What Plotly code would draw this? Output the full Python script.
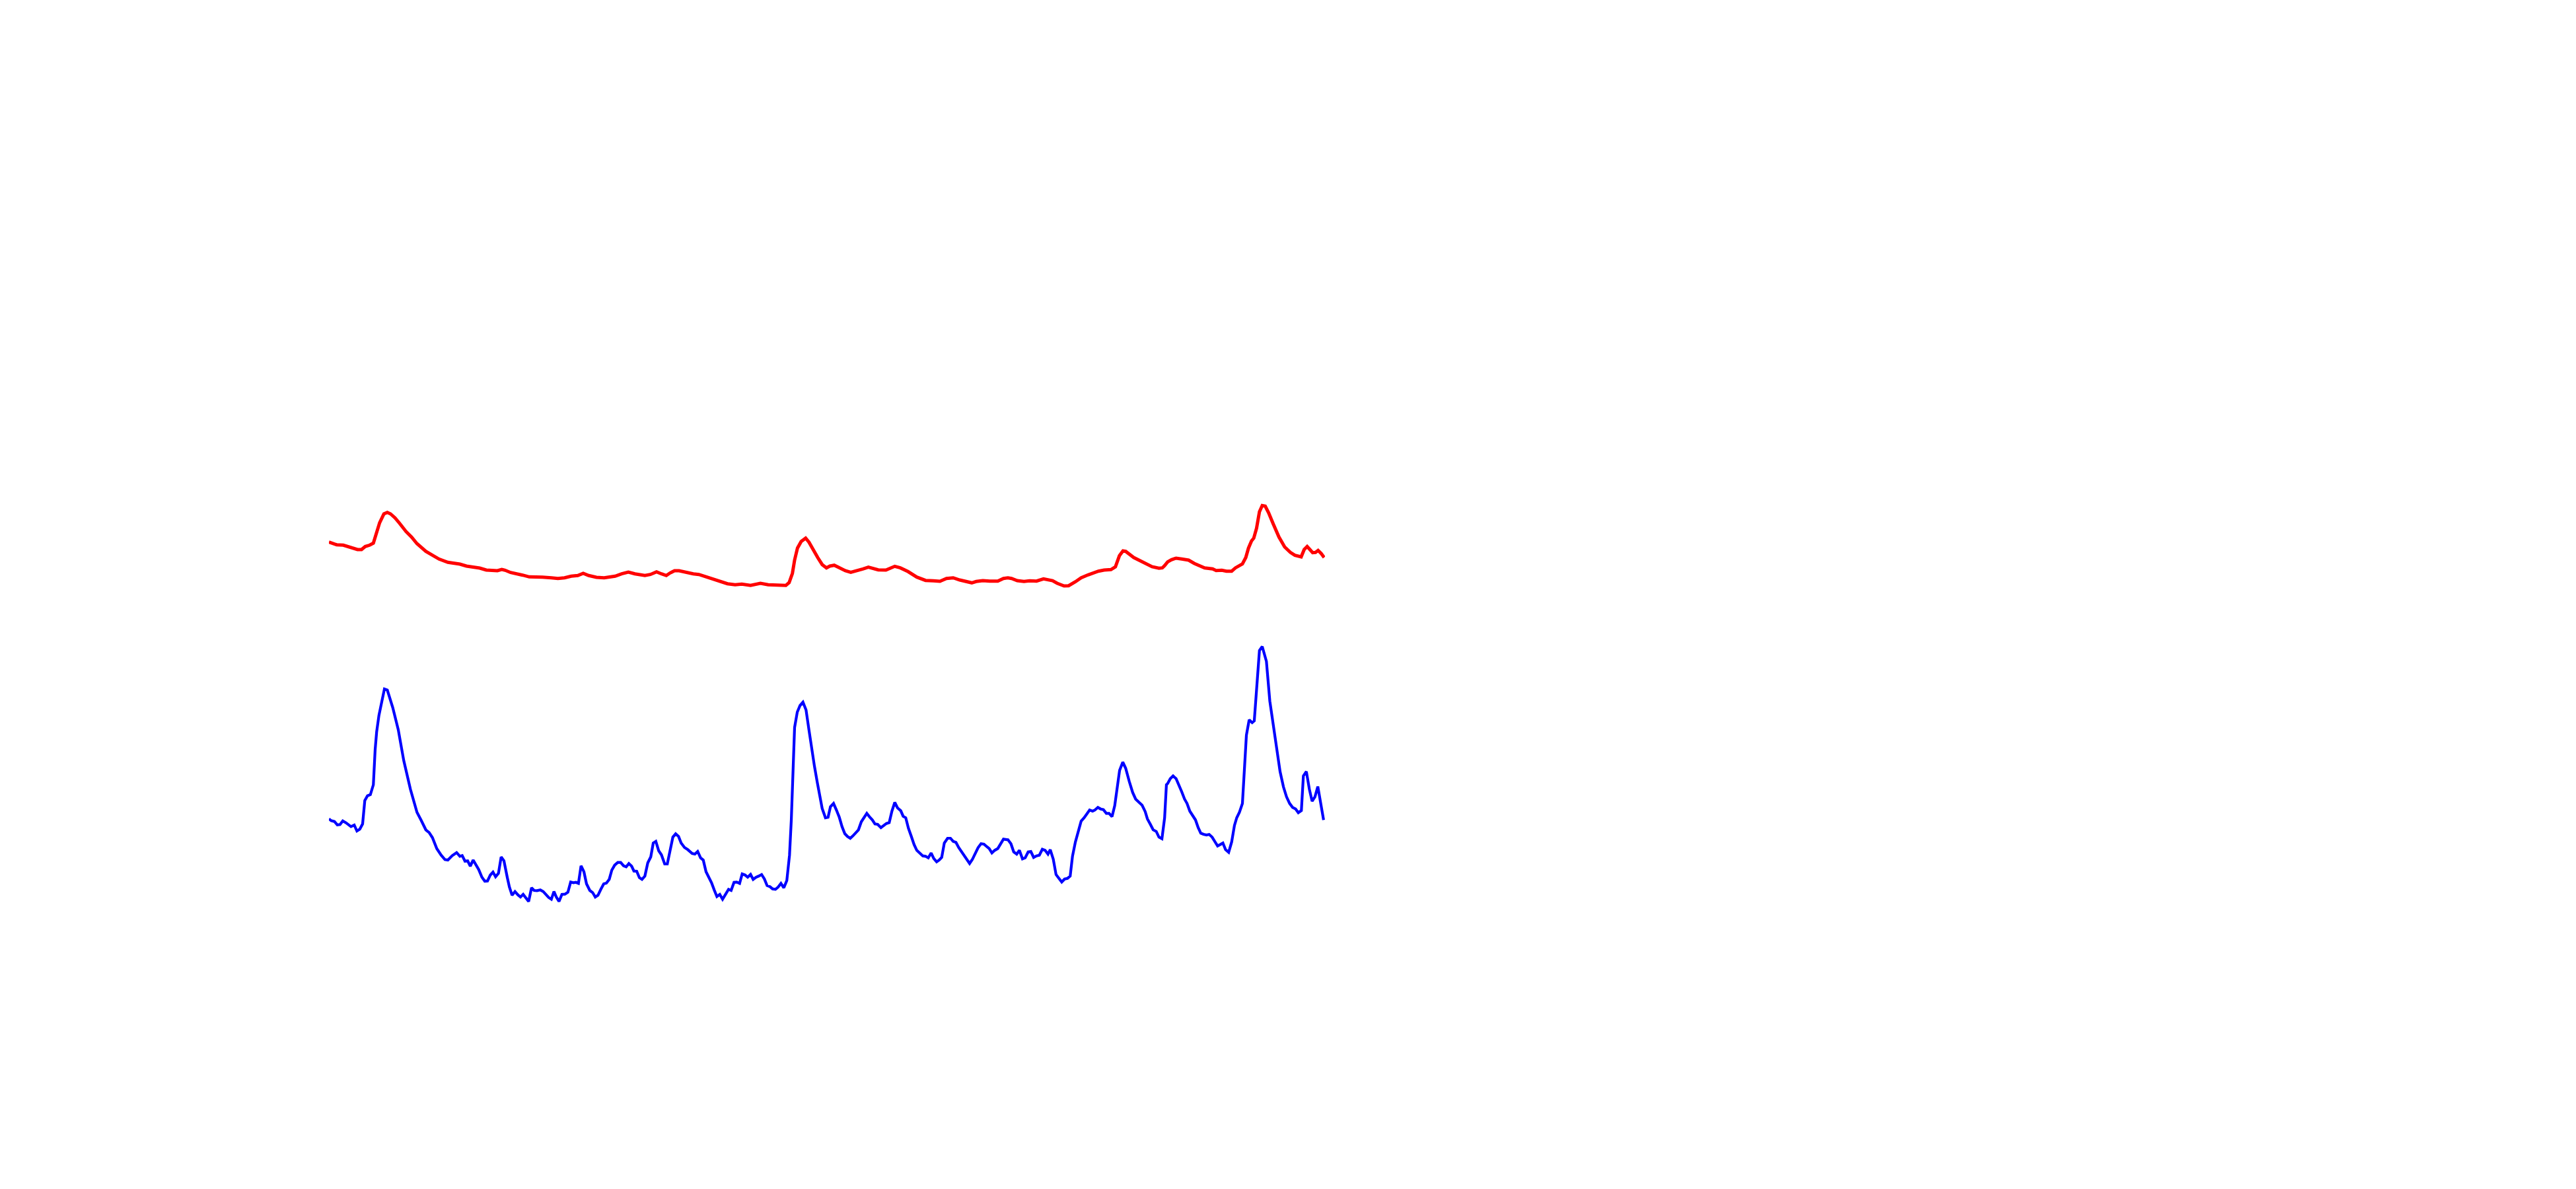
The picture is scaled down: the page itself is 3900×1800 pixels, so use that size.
import plotly.graph_objects as go

# Red series (upper line)
red_t = [0.00, 0.40, 0.78, 1.44, 1.88, 2.21, 2.54, 2.87, 3.27, 3.65, 4.09, 4.46, 4.75, 5.09, 5.52, 5.86,
         6.19, 6.63, 7.08, 7.74, 8.29, 8.84, 9.73, 10.28, 11.05, 11.94, 12.60, 13.15, 13.81, 14.48, 15.14,
         15.80, 16.47, 16.91, 17.35, 17.69, 18.24, 18.79, 19.45, 20.11, 20.89, 21.44, 22.33, 22.99, 23.65,
         24.32, 24.98, 25.53, 26.08, 26.86, 27.63, 28.18, 28.73, 29.40, 30.06, 30.72, 31.72, 32.27, 32.89,
         33.38, 33.87, 34.26, 34.70, 35.15, 35.70, 36.25, 36.58, 37.14, 37.80, 38.79, 40.01, 40.78, 41.45,
         42.33, 43.32, 44.10, 44.76, 45.21, 45.87, 46.20, 46.53, 46.75, 47.04, 47.41, 47.86, 48.19, 48.63,
         49.07, 49.52, 49.95, 50.29, 50.73, 51.28, 51.84, 52.39, 53.05, 53.60, 54.16, 54.60, 55.15, 55.92,
         56.37, 56.81, 57.36, 58.14, 59.02, 59.90, 60.68, 61.34, 62.00, 62.67, 63.33, 63.99, 64.54, 64.99,
         65.65, 66.34, 67.15, 67.72, 68.17, 68.53, 69.10, 69.78, 70.35, 71.04, 71.74, 72.65, 73.11, 73.80,
         74.26, 74.94, 75.52, 76.21, 76.90, 77.25, 77.82, 78.51, 78.96, 79.36, 79.72, 79.99, 80.80, 81.49,
         81.95, 82.64, 83.33, 83.67, 83.90, 84.20, 84.59, 85.05, 85.62, 86.31, 86.88, 87.46, 87.92, 88.72,
         89.07, 89.64, 90.11, 90.63, 91.01, 91.71, 92.05, 92.32, 92.62, 92.85, 93.13, 93.42, 93.70, 94.00,
         94.34, 94.80, 95.38, 95.95, 96.53, 96.98, 97.38, 97.61, 97.91, 98.21, 98.49, 98.76, 99.05, 99.31,
         99.62, 99.92]
red_v = [58.73, 58.50, 58.33, 58.27, 58.07, 57.83, 57.80, 57.60, 57.60, 58.07, 58.27, 58.57, 60.00, 61.67,
         63.00, 63.23, 63.00, 62.40, 61.60, 60.33, 59.50, 58.50, 57.33, 56.83, 56.17, 55.67, 55.50, 55.40,
         55.10, 55.00, 54.80, 54.50, 54.40, 54.40, 54.60, 54.47, 54.13, 54.00, 53.73, 53.47, 53.50, 53.43,
         53.33, 53.23, 53.33, 53.57, 53.67, 54.00, 53.67, 53.40, 53.33, 53.47, 53.57, 53.93, 54.20, 53.93,
         53.67, 53.83, 54.23, 53.93, 53.67, 54.07, 54.40, 54.40, 54.20, 54.10, 53.93, 53.83, 53.50, 52.93,
         52.43, 52.27, 52.37, 52.17, 52.50, 52.27, 52.23, 52.10, 52.17, 52.60, 54.00, 56.00, 57.83, 58.83,
         59.33, 58.73, 57.50, 56.40, 55.33, 54.83, 55.10, 55.23, 54.83, 54.40, 54.17, 54.40, 54.67, 54.93,
         54.73, 54.53, 54.50, 54.73, 55.07, 54.83, 54.27, 53.43, 52.93, 52.87, 52.80, 53.23, 53.33, 53.00,
         52.77, 52.57, 52.77, 52.90, 52.83, 52.83, 53.23, 53.33, 53.23, 52.90, 52.77, 52.87, 52.83, 53.17,
         52.90, 52.50, 52.10, 52.13, 52.73, 53.33, 53.77, 54.17, 54.33, 54.50, 54.57, 55.00, 56.67, 57.40,
         57.33, 56.40, 55.83, 55.43, 55.00, 54.77, 54.83, 55.17, 55.73, 56.07, 56.30, 56.17, 56.00, 55.50,
         55.07, 54.83, 54.67, 54.43, 54.47, 54.33, 54.33, 54.83, 55.43, 56.40, 57.83, 58.90, 59.33, 60.83,
         63.33, 64.27, 64.17, 63.17, 61.50, 59.50, 58.00, 57.17, 56.73, 56.50, 56.50, 57.60, 58.07, 57.60,
         57.13, 57.17, 57.47, 57.00, 56.40]

# Blue series (lower line)
blue_t = [0.00, 0.22, 0.55, 0.84, 1.11, 1.39, 1.72, 1.99, 2.21, 2.54, 2.81, 3.10, 3.38, 3.60, 3.87, 4.16,
          4.31, 4.46, 4.64, 4.79, 5.02, 5.31, 5.57, 5.86, 6.41, 6.96, 7.51, 8.18, 8.84, 9.24, 9.73, 10.06,
          10.39, 10.83, 11.27, 11.65, 11.94, 12.38, 12.82, 13.15, 13.38, 13.66, 13.93, 14.19, 14.48, 15.03,
          15.36, 15.65, 15.92, 16.20, 16.47, 16.73, 17.02, 17.29, 17.57, 17.90, 18.12, 18.39, 18.68, 18.97,
          19.23, 19.50, 19.78, 20.05, 20.34, 20.60, 20.89, 21.22, 21.51, 21.77, 22.06, 22.33, 22.59, 22.83,
          23.10, 23.39, 23.69, 23.99, 24.27, 24.54, 24.80, 25.05, 25.31, 25.60, 25.86, 26.19, 26.48, 26.74,
          27.01, 27.30, 27.59, 27.85, 28.14, 28.40, 28.69, 29.00, 29.29, 29.58, 29.84, 30.11, 30.39, 30.62,
          30.90, 31.17, 31.43, 31.72, 32.01, 32.31, 32.56, 32.82, 33.11, 33.38, 33.71, 33.97, 34.26, 34.53,
          34.81, 35.10, 35.36, 35.70, 36.03, 36.47, 36.74, 37.02, 37.31, 37.58, 37.86, 38.13, 38.41, 38.68,
          38.95, 39.24, 39.52, 39.79, 40.12, 40.38, 40.67, 40.94, 41.23, 41.49, 41.78, 42.04, 42.33, 42.59,
          42.88, 43.15, 43.44, 43.72, 43.99, 44.28, 44.54, 44.83, 45.09, 45.38, 45.67, 45.97, 46.24, 46.42,
          46.53, 46.64, 46.75, 47.02, 47.30, 47.59, 47.90, 48.19, 48.46, 48.74, 49.03, 49.29, 49.52, 49.85,
          50.11, 50.35, 50.66, 50.95, 51.24, 51.51, 51.79, 52.06, 52.34, 52.61, 52.87, 53.16, 53.45, 53.71,
          54.00, 54.26, 54.56, 54.82, 55.09, 55.42, 55.70, 55.97, 56.25, 56.52, 56.81, 57.08, 57.41, 57.65,
          57.91, 58.18, 58.47, 58.75, 59.02, 59.30, 59.62, 59.90, 60.17, 60.46, 60.72, 61.01, 61.27, 61.52,
          61.78, 62.11, 62.40, 62.67, 62.95, 63.22, 63.51, 63.77, 64.04, 64.32, 64.59, 64.87, 65.17, 65.47,
          65.76, 66.07, 66.29, 66.56, 66.84, 67.15, 67.44, 67.72, 68.17, 68.47, 68.75, 69.05, 69.32, 69.63,
          69.90, 70.20, 70.47, 70.75, 71.04, 71.32, 71.62, 71.90, 72.19, 72.42, 72.72, 73.00, 73.29, 73.57,
          73.86, 74.15, 74.42, 74.65, 74.94, 75.23, 75.52, 75.82, 76.10, 76.37, 76.67, 76.90, 77.20, 77.48,
          77.75, 78.05, 78.32, 78.62, 78.89, 79.15, 79.38, 79.70, 79.99, 80.35, 80.69, 80.99, 81.33, 81.64,
          81.95, 82.17, 82.47, 82.75, 83.06, 83.33, 83.63, 83.90, 84.08, 84.20, 84.47, 84.75, 85.05, 85.35,
          85.62, 85.90, 86.15, 86.43, 86.72, 87.00, 87.27, 87.53, 87.80, 88.10, 88.37, 88.67, 88.94, 89.22,
          89.47, 89.75, 90.02, 90.33, 90.63, 90.91, 91.14, 91.41, 91.71, 91.89, 92.11, 92.39, 92.69, 92.90,
          93.08, 93.42, 93.70, 94.12, 94.46, 94.80, 95.14, 95.49, 95.83, 96.14, 96.45, 96.75, 97.05, 97.32,
          97.63, 97.83, 98.13, 98.43, 98.71, 98.99, 99.28, 99.58, 99.86]
blue_v = [16.83, 16.57, 16.43, 15.93, 15.97, 16.53, 16.23, 15.93, 15.67, 15.90, 15.00, 15.27, 16.07, 19.60,
          20.33, 20.50, 21.17, 22.00, 27.33, 30.00, 32.50, 34.67, 36.50, 36.33, 33.67, 30.33, 25.67, 21.33,
          17.83, 16.67, 15.17, 14.77, 14.00, 12.33, 11.33, 10.67, 10.60, 11.27, 11.73, 11.17, 11.27, 10.43,
          10.47, 9.67, 10.60, 9.17, 8.00, 7.40, 7.43, 8.33, 8.77, 8.07, 8.60, 11.07, 10.50, 8.00, 6.50, 5.27,
          5.83, 5.33, 5.00, 5.40, 4.83, 4.33, 6.40, 6.00, 5.97, 6.07, 5.83, 5.33, 4.93, 4.67, 5.83, 5.00,
          4.33, 5.40, 5.43, 5.73, 7.27, 7.17, 7.23, 7.07, 9.73, 8.83, 7.00, 6.00, 5.67, 5.00, 5.27, 6.17,
          7.00, 7.10, 7.67, 9.07, 9.83, 10.23, 10.23, 9.73, 9.57, 10.07, 9.67, 8.93, 8.90, 7.93, 7.67, 8.17,
          10.17, 11.07, 13.17, 13.43, 12.00, 11.40, 10.00, 10.00, 12.17, 14.07, 14.57, 14.17, 13.17, 12.50,
          12.17, 11.60, 11.50, 11.90, 10.93, 10.60, 8.83, 8.00, 7.17, 6.07, 5.07, 5.40, 4.67, 5.33, 6.17,
          6.00, 7.23, 7.27, 7.07, 8.50, 8.33, 8.00, 8.43, 7.67, 8.00, 8.17, 8.40, 7.73, 6.73, 6.57, 6.23,
          6.17, 6.50, 7.07, 6.40, 7.50, 11.33, 16.67, 21.33, 26.67, 30.67, 33.00, 34.00, 34.50, 33.33, 30.33,
          27.33, 24.83, 22.33, 20.00, 18.40, 17.00, 17.07, 18.67, 19.17, 18.17, 17.07, 15.67, 14.60, 14.17,
          13.90, 14.27, 14.77, 15.17, 16.40, 17.07, 17.67, 17.17, 16.67, 16.07, 16.00, 15.50, 15.83, 16.13,
          16.27, 18.00, 19.33, 18.50, 18.07, 17.23, 17.00, 15.40, 14.17, 12.93, 12.07, 11.67, 11.23, 11.17,
          10.93, 11.67, 10.83, 10.33, 10.60, 11.00, 13.17, 13.90, 13.90, 13.43, 13.27, 12.50, 11.83, 11.40,
          10.67, 10.07, 10.67, 11.57, 12.47, 13.07, 13.00, 12.60, 12.33, 11.67, 12.07, 12.33, 13.17, 13.77,
          13.67, 13.07, 11.83, 11.50, 12.07, 10.77, 10.93, 11.83, 11.90, 11.00, 11.23, 11.33, 12.23, 12.07,
          11.50, 12.17, 10.73, 8.40, 7.83, 7.27, 7.73, 7.83, 8.17, 11.17, 13.33, 15.00, 16.50, 17.00, 17.57,
          18.17, 18.00, 18.17, 18.57, 18.33, 18.23, 17.67, 17.67, 17.17, 18.83, 21.67, 24.17, 25.43, 24.50,
          22.50, 20.83, 19.83, 19.33, 18.90, 17.93, 16.83, 16.00, 15.17, 14.93, 14.07, 13.83, 17.00, 22.00,
          22.17, 22.93, 23.33, 22.93, 22.00, 20.93, 19.83, 19.17, 18.00, 17.33, 16.67, 15.50, 14.67, 14.50,
          14.40, 14.47, 14.07, 13.40, 12.73, 12.93, 13.17, 12.17, 11.77, 13.33, 15.83, 17.00, 17.83, 19.17,
          23.33, 29.50, 31.83, 31.40, 31.67, 35.67, 42.33, 42.93, 40.67, 34.67, 31.00, 27.33, 24.00, 21.67,
          20.17, 19.17, 18.57, 18.33, 17.77, 18.10, 23.33, 24.00, 21.33, 19.50, 20.17, 21.73, 19.17, 16.67]

fig = go.Figure()
fig.add_trace(go.Scatter(x=red_t, y=red_v, mode="lines", name="Red",
                         line=dict(color="#ff0000", width=5)))
fig.add_trace(go.Scatter(x=blue_t, y=blue_v, mode="lines", name="Blue",
                         line=dict(color="#0000ff", width=4.2)))

axis_style = dict(showgrid=False, zeroline=False, showticklabels=False, showline=False, ticks="")
fig.update_layout(
    width=3900, height=1800,
    margin=dict(l=490, r=1902, t=600, b=400, pad=0),
    paper_bgcolor="white", plot_bgcolor="white",
    showlegend=False,
    xaxis=dict(range=[0, 100], **axis_style),
    yaxis=dict(range=[0, 80], **axis_style),
)

fig.write_html("out.html")
